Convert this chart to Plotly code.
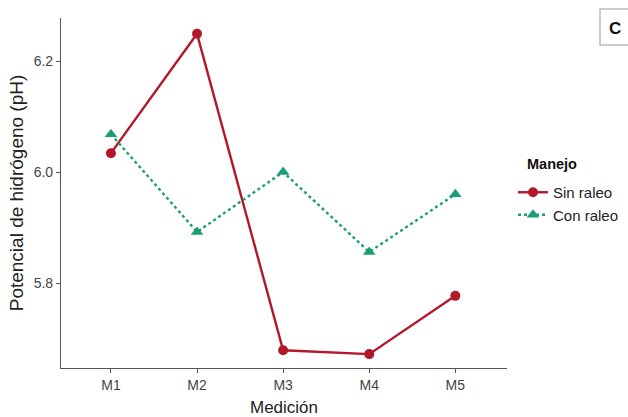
import plotly.graph_objects as go

# Measurement campaigns and mean soil pH per management
mediciones = ["M1", "M2", "M3", "M4", "M5"]
sin_raleo = [6.034, 6.249, 5.679, 5.672, 5.777]
con_raleo = [6.068, 5.892, 6.000, 5.856, 5.960]
y_ticks = [5.8, 6.0, 6.2]

RED = "#B2182B"
GREEN = "#1B9E77"
AXIS = "#555555"
FONT = "Liberation Sans, Arial, sans-serif"

fig = go.Figure()
fig.add_trace(go.Scatter(
    x=mediciones, y=sin_raleo, name="Sin raleo", mode="lines+markers",
    line=dict(color=RED, width=2.4, dash="solid"),
    marker=dict(symbol="circle", size=10, color=RED),
))
fig.add_trace(go.Scatter(
    x=mediciones, y=con_raleo, name="Con raleo", mode="lines+markers",
    line=dict(color=GREEN, width=2.4, dash="dot"),
    marker=dict(symbol="triangle-up", size=11, color=GREEN),
))

fig.update_layout(
    width=628, height=417,
    margin=dict(l=61, r=121, t=18, b=49, autoexpand=False),
    paper_bgcolor="white", plot_bgcolor="white",
    font=dict(family=FONT, size=14, color="#333333"),
    showlegend=True,
    legend=dict(
        x=(513 - 61) / 446, xanchor="left",
        y=(368 - 176) / 350, yanchor="top",
        font=dict(family=FONT, size=15, color="#222222"),
        bgcolor="rgba(0,0,0,0)",
        itemwidth=30,
        tracegroupgap=0,
    ),
    xaxis=dict(
        type="category",
        range=[-0.58, 4.6],
        automargin=False,
        showline=True, linecolor=AXIS, linewidth=1.2,
        ticks="outside", ticklen=4, tickcolor=AXIS,
        showgrid=False, zeroline=False,
        tickfont=dict(family=FONT, size=14, color="#444444"),
        title=dict(text="Medición", font=dict(family=FONT, size=17, color="#222222"), standoff=9),
    ),
    yaxis=dict(
        range=[5.647, 6.2775],
        automargin=False,
        tickvals=y_ticks, ticktext=[f"{v:.1f}" for v in y_ticks],
        showline=True, linecolor=AXIS, linewidth=1.2,
        ticks="outside", ticklen=4, tickcolor=AXIS,
        showgrid=False, zeroline=False,
        tickfont=dict(family=FONT, size=14, color="#444444"),
        title=dict(text="Potencial de hidrógeno (pH)", font=dict(family=FONT, size=19, color="#222222"), standoff=4),
    ),
)

# Legend heading
fig.add_annotation(
    text="<b>Manejo</b>", xref="paper", yref="paper",
    x=(525 - 61) / 446, y=(368 - 164) / 350, xanchor="left", yanchor="middle",
    showarrow=False, font=dict(family=FONT, size=14.5, color="#111111"),
)

# Panel label box
fig.add_shape(
    type="rect", xref="paper", yref="paper",
    x0=(600 - 61) / 446, x1=(632 - 61) / 446,
    y0=(368 - 45) / 350, y1=(368 - 9) / 350,
    line=dict(color="#BBBBBB", width=1.5), fillcolor="white",
)
fig.add_annotation(
    text="<b>C</b>", xref="paper", yref="paper",
    x=(615 - 61) / 446, y=(368 - 28) / 350, xanchor="center", yanchor="middle",
    showarrow=False, font=dict(family=FONT, size=17, color="#111111"),
)

fig.write_html("out.html")
